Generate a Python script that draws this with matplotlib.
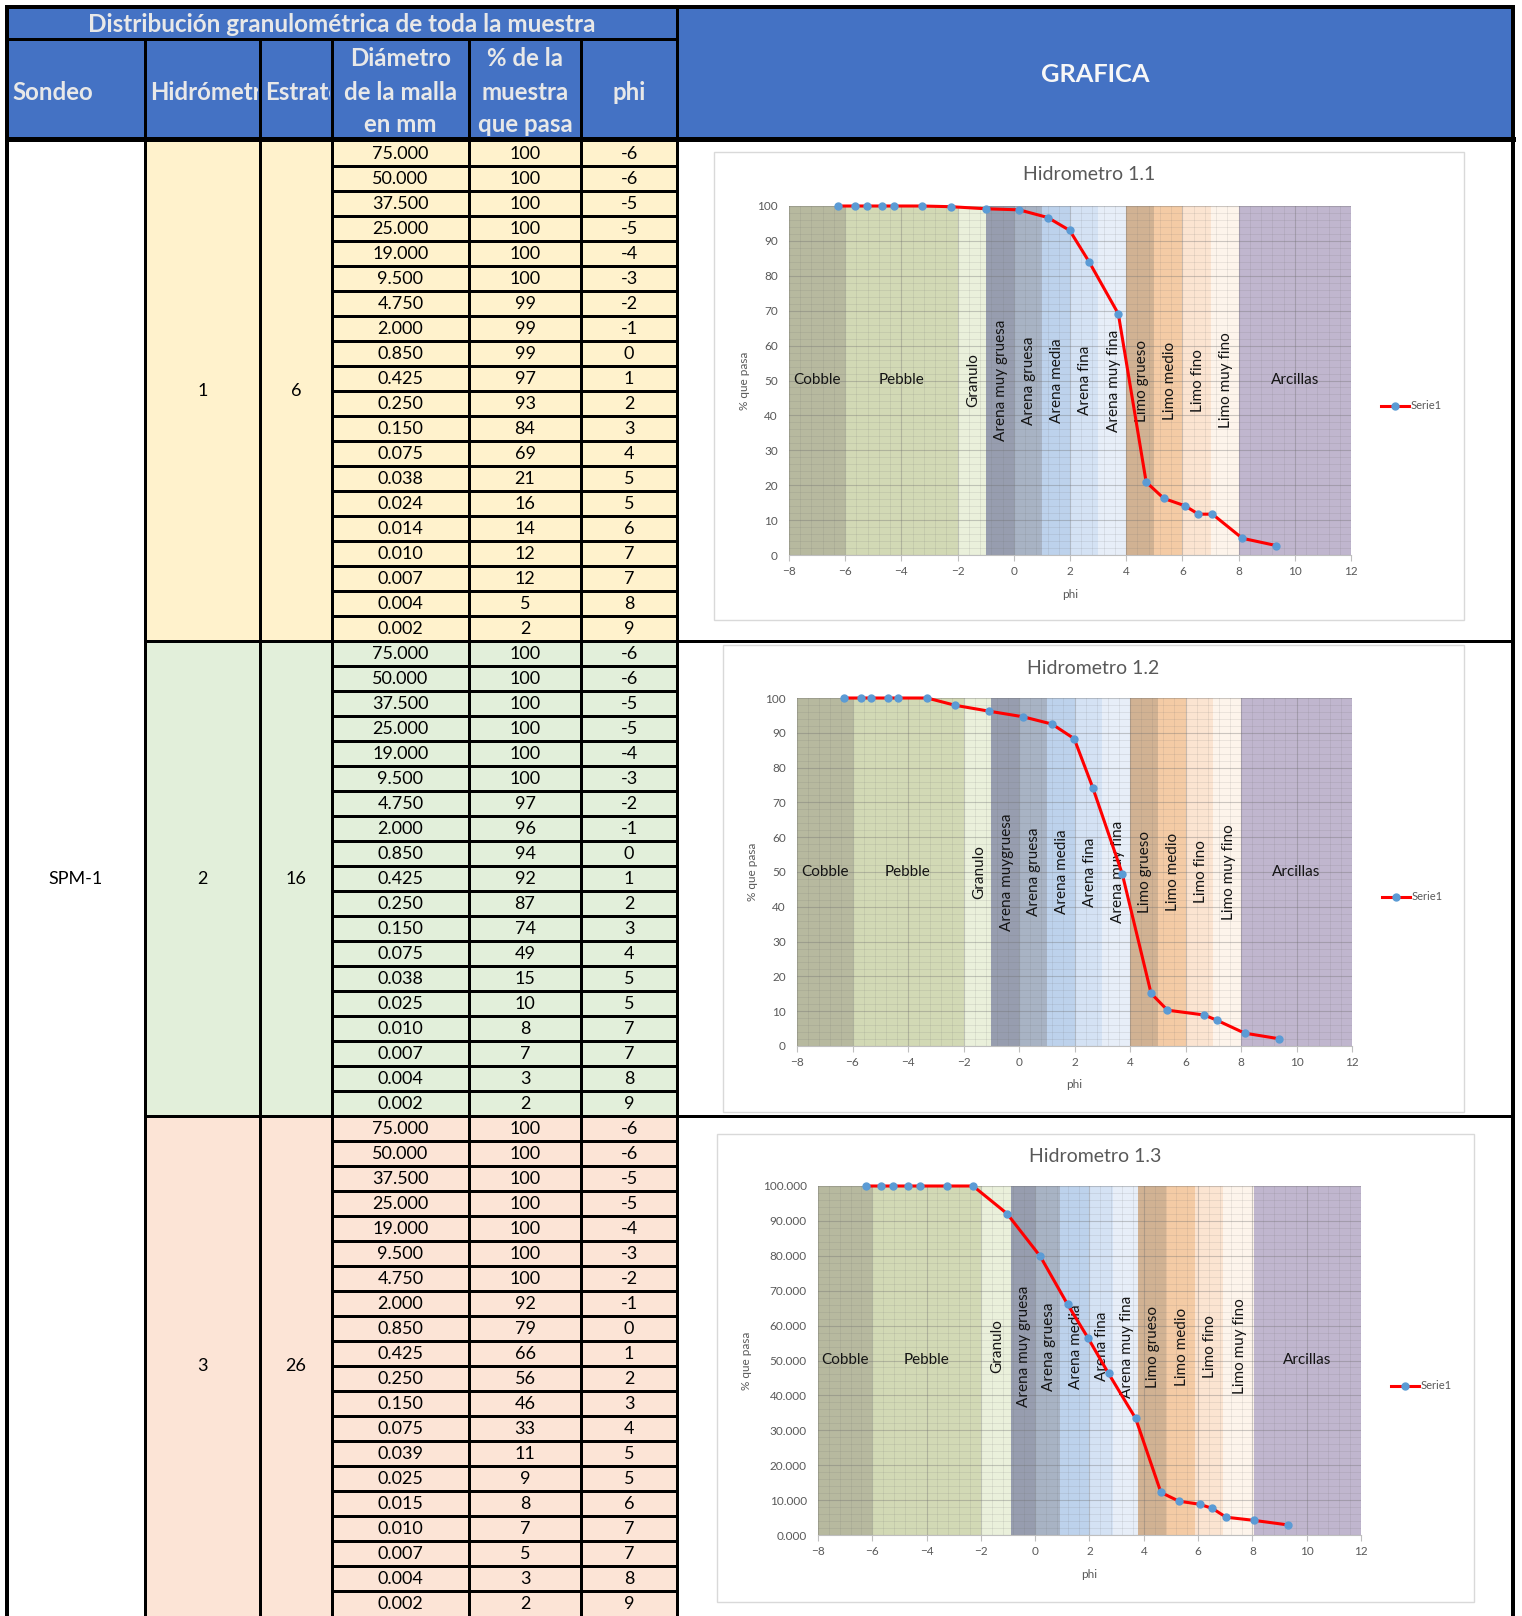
import matplotlib
matplotlib.use('Agg')
import matplotlib.pyplot as plt
from matplotlib.patches import Rectangle
from matplotlib.transforms import Bbox, TransformedBbox
from matplotlib.ticker import MultipleLocator, FormatStrFormatter

plt.rcParams['font.family'] = ['Lato', 'DejaVu Sans']

# ---------------- table data ----------------
sondeo = 'SPM-1'
hidrometro = ['1', '2', '3']
estrato = ['6', '16', '26']

diam_1 = [75.000, 50.000, 37.500, 25.000, 19.000, 9.500, 4.750, 2.000, 0.850, 0.425,
          0.250, 0.150, 0.075, 0.038, 0.024, 0.014, 0.010, 0.007, 0.004, 0.002]
pasa_1 = [100, 100, 100, 100, 100, 100, 99, 99, 99, 97, 93, 84, 69, 21, 16, 14, 12, 12, 5, 2]
phi_1 = [-6, -6, -5, -5, -4, -3, -2, -1, 0, 1, 2, 3, 4, 5, 5, 6, 7, 7, 8, 9]

diam_2 = [75.000, 50.000, 37.500, 25.000, 19.000, 9.500, 4.750, 2.000, 0.850, 0.425,
          0.250, 0.150, 0.075, 0.038, 0.025, 0.010, 0.007, 0.004, 0.002]
pasa_2 = [100, 100, 100, 100, 100, 100, 97, 96, 94, 92, 87, 74, 49, 15, 10, 8, 7, 3, 2]
phi_2 = [-6, -6, -5, -5, -4, -3, -2, -1, 0, 1, 2, 3, 4, 5, 5, 7, 7, 8, 9]

diam_3 = [75.000, 50.000, 37.500, 25.000, 19.000, 9.500, 4.750, 2.000, 0.850, 0.425,
          0.250, 0.150, 0.075, 0.039, 0.025, 0.015, 0.010, 0.007, 0.004, 0.002]
pasa_3 = [100, 100, 100, 100, 100, 100, 100, 92, 79, 66, 56, 46, 33, 11, 9, 8, 7, 5, 3, 2]
phi_3 = [-6, -6, -5, -5, -4, -3, -2, -1, 0, 1, 2, 3, 4, 5, 5, 6, 7, 7, 8, 9]

# ---------------- chart data ----------------
titles = ['Hidrometro 1.1', 'Hidrometro 1.2', 'Hidrometro 1.3']

curve_x_1 = [-6.24, -5.65, -5.22, -4.68, -4.25, -3.28, -2.23, -0.98, 0.19, 1.21,
             1.99, 2.68, 3.72, 4.71, 5.34, 6.09, 6.57, 7.07, 8.13, 9.34]
curve_y_1 = [100, 100, 100, 100, 100, 100, 99.8, 99.2, 98.9, 96.7,
             93.0, 84.0, 69.1, 20.9, 16.2, 14.1, 11.7, 11.7, 4.8, 2.7]

curve_x_2 = [-6.29, -5.71, -5.32, -4.73, -4.36, -3.31, -2.30, -1.07, 0.15, 1.19,
             1.99, 2.66, 3.72, 4.76, 5.35, 6.68, 7.13, 8.13, 9.36]
curve_y_2 = [100, 100, 100, 100, 100, 100, 97.9, 96.2, 94.6, 92.5,
             88.3, 74.2, 49.5, 15.1, 10.3, 8.9, 7.4, 3.7, 2.1]

curve_x_3 = [-6.25, -5.67, -5.23, -4.67, -4.26, -3.26, -2.29, -1.04, 0.19, 1.19,
             1.95, 2.70, 3.70, 4.63, 5.29, 6.06, 6.53, 7.03, 8.05, 9.30]
curve_y_3 = [100, 100, 100, 100, 100, 100, 100, 92.1, 79.8, 66.1,
             56.4, 46.3, 33.4, 12.2, 9.7, 8.8, 7.6, 5.1, 4.2, 2.9]

band_names = ['Cobble', 'Pebble', 'Granulo', 'Arena muy gruesa', 'Arena gruesa',
              'Arena media', 'Arena fina', 'Arena muy fina', 'Limo grueso',
              'Limo medio', 'Limo fino', 'Limo muy fino', 'Arcillas']
band_names_2 = ['Cobble', 'Pebble', 'Granulo', 'Arena muygruesa', 'Arena gruesa',
                'Arena media', 'Arena fina', 'Arena muy fina', 'Limo grueso',
                'Limo medio', 'Limo fino', 'Limo muy fino', 'Arcillas']
band_edges_1 = [-8, -6, -2, -1, 0, 1, 2, 3, 4, 5, 6, 7, 8, 12]
band_edges_3 = [-8, -6, -2, -0.9, 0, 0.9, 2, 2.85, 3.8, 4.8, 5.9, 6.9, 8.05, 12]
band_colors = ['#B7B99F', '#D2D9B5', '#EAF0DB', '#979DAF', '#A8B3C4', '#BDD2EC',
               '#D4E2F4', '#E7EEF8', '#D1B293', '#F4CBA5', '#FBE4D1', '#FDF4EB', '#C0B6CE']

# ---------------- layout ----------------
W, H = 1522, 1616
fig = plt.figure(figsize=(W / 100, H / 100), dpi=100)
tab = fig.add_axes([0, 0, 1, 1])
tab.set_xlim(0, W)
tab.set_ylim(H, 0)
tab.axis('off')

BLUE = '#4472C4'
HEAD_TXT = '#E8E8E8'
group_fc = ['#FFF2CC', '#E2EFDA', '#FCE4D6']

cols = [7, 145, 260, 332, 469, 581, 677, 1513]
top, title_bot, head_bot = 7, 39, 139
row_h = 25
data_top = 141
HEAD_FS = 17.3


def px(p):
    return p * 72 / 100


def fill(x0, x1, y0, y1, fc):
    tab.add_patch(Rectangle((x0, y0), x1 - x0, y1 - y0, facecolor=fc,
                            edgecolor='none', zorder=1))


def hline(y, x0, x1, w):
    tab.plot([x0, x1], [y, y], color='black', lw=px(w), solid_capstyle='projecting', zorder=3)


def vline(x, y0, y1, w):
    tab.plot([x, x], [y0, y1], color='black', lw=px(w), solid_capstyle='projecting', zorder=3)


# header
fill(top, cols[7], top, head_bot, BLUE)
tab.text((cols[0] + cols[6]) / 2, 25, 'Distribución granulométrica de toda la muestra',
         ha='center', va='center', fontsize=17.5, fontweight='bold', color=HEAD_TXT, zorder=5)
tab.text((cols[6] + cols[7]) / 2, 75, 'GRAFICA', ha='center', va='center',
         fontsize=18.3, fontweight='bold', color='#F7F7F7', zorder=5)
hy = (title_bot + head_bot) / 2 + 3
# "Hidrómetro" and "Estrato" are cut at the cell border, as in the sheet
head_left = [('Sondeo', 0), ('Hidrómetro', 1), ('Estrato', 2)]
for txt, c in head_left:
    t = tab.text(cols[c] + 5, hy, txt, ha='left', va='center', fontsize=HEAD_FS,
                 fontweight='bold', color=HEAD_TXT, zorder=5, clip_on=True)
    t.set_clip_box(TransformedBbox(Bbox([[cols[c], title_bot], [cols[c + 1] - 2, head_bot]]),
                                   tab.transData))
head_multi = [(['Diámetro', 'de la malla', 'en mm'], 3),
              (['% de la', 'muestra', 'que pasa'], 4)]
for lines, c in head_multi:
    for j, ln in enumerate(lines):
        tab.text((cols[c] + cols[c + 1]) / 2, 59 + 33 * j, ln, ha='center', va='center',
                 fontsize=HEAD_FS, fontweight='bold', color=HEAD_TXT, zorder=5)
tab.text((cols[5] + cols[6]) / 2, hy, 'phi', ha='center', va='center', fontsize=HEAD_FS,
         fontweight='bold', color=HEAD_TXT, zorder=5)

# body
fill(cols[0], cols[1], data_top, H, 'white')
fill(cols[6], cols[7], data_top, H, 'white')
tables = [(diam_1, pasa_1, phi_1), (diam_2, pasa_2, phi_2), (diam_3, pasa_3, phi_3)]
y = data_top
for g, (d, p, f) in enumerate(tables):
    n = len(d)
    y0, y1 = y, y + n * row_h
    fill(cols[1], cols[6], y0, y1, group_fc[g])
    for i in range(n):
        yc = y0 + (i + 0.5) * row_h + 0.5
        tab.text((cols[3] + cols[4]) / 2, yc, f'{d[i]:.3f}', ha='center', va='center',
                 fontsize=13, color='black', zorder=5)
        tab.text((cols[4] + cols[5]) / 2, yc, f'{p[i]}', ha='center', va='center',
                 fontsize=13, color='black', zorder=5)
        tab.text((cols[5] + cols[6]) / 2, yc, f'{f[i]}', ha='center', va='center',
                 fontsize=13, color='black', zorder=5)
        if i > 0:
            hline(y0 + i * row_h, cols[3], cols[6], 3)
    tab.text((cols[1] + cols[2]) / 2, (y0 + y1) / 2, hidrometro[g], ha='center',
             va='center', fontsize=13, zorder=5)
    tab.text((cols[2] + cols[3]) / 2, (y0 + y1) / 2, estrato[g], ha='center',
             va='center', fontsize=13, zorder=5)
    if g < 2:
        hline(y1, cols[1], cols[7], 3)
    y = y1
tab.text((cols[0] + cols[1]) / 2, (data_top + H) / 2, sondeo, ha='center', va='center',
         fontsize=13, zorder=5)

# grid lines of the sheet
hline(title_bot, cols[0], cols[6], 3)
hline(head_bot, cols[0], cols[7], 5)
for c in range(1, 6):
    vline(cols[c], title_bot, H, 3)
vline(cols[6], top, H, 3)
vline(cols[0], top, H + 5, 4)
vline(cols[7], top, H + 5, 4)
hline(top, cols[0], cols[7], 4)

# ---------------- charts ----------------
chart_boxes = [(714, 152, 1464, 620), (723, 645, 1464, 1112), (717, 1134, 1474, 1602)]
plot_areas = [(789, 206, 1351, 555), (797, 698, 1352, 1046), (818, 1186, 1361, 1535)]
curves = [(curve_x_1, curve_y_1), (curve_x_2, curve_y_2), (curve_x_3, curve_y_3)]
edges_all = [band_edges_1, band_edges_1, band_edges_3]
names_all = [band_names, band_names_2, band_names]
label_y = [50, 50, 54]
GRAY = '#595959'

for k in range(3):
    bx0, by0, bx1, by1 = chart_boxes[k]
    tab.add_patch(Rectangle((bx0, by0), bx1 - bx0, by1 - by0, facecolor='white',
                            edgecolor='#D9D9D9', lw=1, zorder=4))
    x0, y0, x1, y1 = plot_areas[k]
    ax = fig.add_axes([x0 / W, 1 - y1 / H, (x1 - x0) / W, (y1 - y0) / H])
    ax.set_xlim(-8, 12)
    ax.set_ylim(0, 100)
    ax.patch.set_alpha(0)
    edges = edges_all[k]
    for i in range(len(edges) - 1):
        ax.axvspan(edges[i], edges[i + 1], color=band_colors[i], lw=0, zorder=0.2)
        cx = (edges[i] + edges[i + 1]) / 2
        name = names_all[k][i]
        if name in ('Cobble', 'Pebble', 'Arcillas'):
            ax.text(cx, 50, name, ha='center', va='center', fontsize=11,
                    color='#141414', zorder=2)
        else:
            ax.text(cx + 0.05, label_y[k], name, ha='center', va='center', rotation=90,
                    fontsize=11, color='#141414', zorder=2)
    ax.set_axisbelow(True)
    ax.xaxis.set_major_locator(MultipleLocator(2))
    ax.xaxis.set_minor_locator(MultipleLocator(0.4))
    ax.yaxis.set_major_locator(MultipleLocator(10))
    ax.yaxis.set_minor_locator(MultipleLocator(2))
    ax.grid(which='major', color='#6E6E6E', alpha=0.35, lw=0.8)
    ax.grid(which='minor', color='#6E6E6E', alpha=0.15, lw=0.6)
    if k == 2:
        ax.yaxis.set_major_formatter(FormatStrFormatter('%.3f'))
    for s in ('top', 'right', 'left'):
        ax.spines[s].set_visible(False)
    ax.spines['bottom'].set_color('#BFBFBF')
    ax.tick_params(axis='x', which='major', length=4, color='#BFBFBF', labelsize=8.5,
                   labelcolor=GRAY, pad=4)
    ax.tick_params(axis='y', which='major', length=0, labelsize=8.5, labelcolor=GRAY, pad=8)
    ax.tick_params(which='minor', length=0)
    xs, ys = curves[k]
    ax.plot(xs, ys, color='#FF0000', lw=2.2, zorder=4, clip_on=False)
    ax.plot(xs, ys, ls='none', marker='o', ms=5, color='#5B9BD5', zorder=5, clip_on=False)

    # labels, title, legend
    cxp = (x0 + x1) / 2
    cyp = (y0 + y1) / 2
    tab.text((bx0 + bx1) / 2, by0 + 23, titles[k], ha='center', va='center',
             fontsize=14, color=GRAY, zorder=6)
    tab.text(bx0 + 30, cyp, '% que pasa', ha='center', va='center', rotation=90,
             fontsize=8.5, color=GRAY, zorder=6)
    tab.text(cxp, y1 + 39, 'phi', ha='center', va='center', fontsize=8.5,
             color=GRAY, zorder=6)
    lx, ly = x1 + 30, cyp + 25
    tab.plot([lx, lx + 28], [ly, ly], color='#FF0000', lw=2.2, zorder=6)
    tab.plot([lx + 14], [ly], marker='o', ms=5, color='#5B9BD5', zorder=7)
    tab.text(lx + 30, ly, 'Serie1', ha='left', va='center', fontsize=8, color=GRAY, zorder=6)

fig.savefig('out.png', dpi=100)
